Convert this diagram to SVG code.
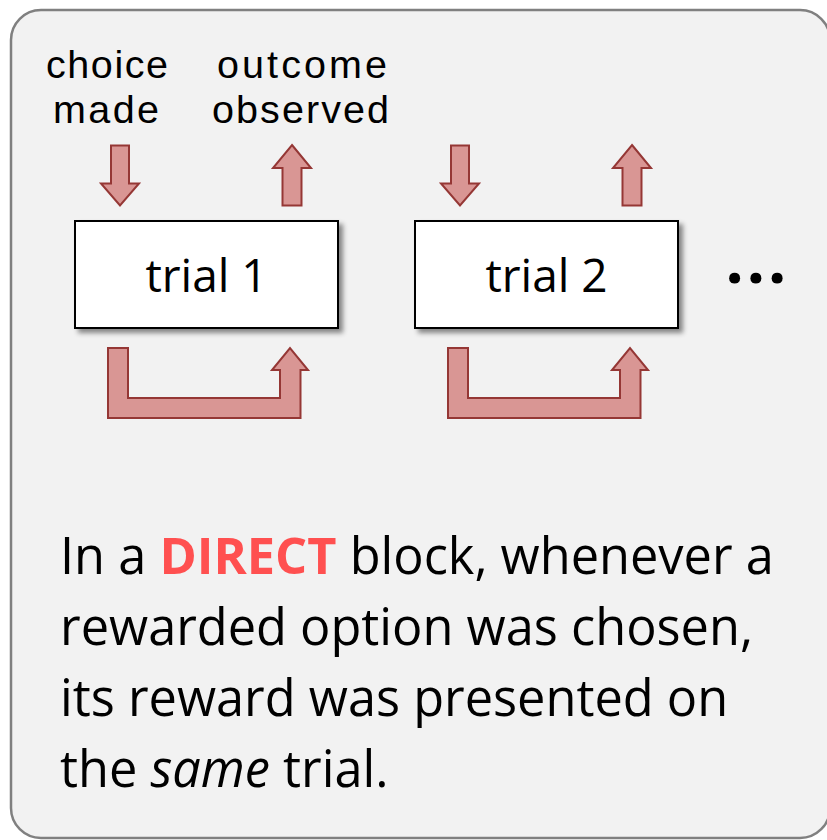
<svg xmlns="http://www.w3.org/2000/svg" width="827" height="840" viewBox="0 0 827 840">
  <defs>
    <filter id="boxShadow" x="-10%" y="-10%" width="130%" height="140%">
      <feDropShadow dx="4" dy="4" stdDeviation="2.5" flood-color="#000" flood-opacity="0.45"/>
    </filter>
  </defs>
  <style>
    .panel { fill: #f2f2f2; stroke: #808080; stroke-width: 2.5; }
    .trial { fill: #ffffff; stroke: #000000; stroke-width: 2; filter: url(#boxShadow); }
    .arrow { fill: #d99694; stroke: #953735; stroke-width: 2; stroke-linejoin: miter; }
    .label { font-family: "Liberation Sans", Arial, sans-serif; font-size: 39.5px; fill: #000; text-anchor: middle; }
    .trial-text { font-family: "Open Sans", "Liberation Sans", sans-serif; font-size: 46px; fill: #000; text-anchor: middle; }
    .body { font-family: "Open Sans", "Liberation Sans", sans-serif; font-size: 50.5px; fill: #000; }
    .accent { font-weight: bold; fill: #ff5050; }
    .dots { font-family: "Open Sans", "Liberation Sans", sans-serif; font-size: 64px; font-weight: bold; fill: #000; letter-spacing: 3px; }
  </style>

  <!-- background panel -->
  <rect class="panel" x="11" y="10" width="819" height="828" rx="30" ry="30"/>

  <!-- column labels -->
  <g id="label-choice">
    <text class="label" x="107" y="78" textLength="122" lengthAdjust="spacing">choice</text>
    <text class="label" x="106" y="123" textLength="106" lengthAdjust="spacing">made</text>
  </g>
  <g id="label-outcome">
    <text class="label" x="302" y="78" textLength="170" lengthAdjust="spacing">outcome</text>
    <text class="label" x="300.5" y="123" textLength="177" lengthAdjust="spacing">observed</text>
  </g>

  <!-- trial boxes -->
  <g id="trial1">
    <rect class="trial" x="75" y="221" width="263" height="107"/>
    <text class="trial-text" x="206.5" y="292">trial 1</text>
  </g>
  <g id="trial2">
    <rect class="trial" x="415" y="221" width="263" height="107"/>
    <text class="trial-text" x="546.5" y="292">trial 2</text>
  </g>
  <g id="more">
    <text class="dots" x="725.5" y="283">...</text>
  </g>

  <!-- block arrows -->
  <g id="connectors">
    <!-- trial 1: choice in, outcome out -->
    <polygon class="arrow" points="111,145.5 129,145.5 129,183.5 139,183.5 120,205.5 101,183.5 111,183.5"/>
    <polygon class="arrow" points="292,145 311,168 301.5,168 301.5,205.5 282.5,205.5 282.5,168 273,168"/>
    <!-- trial 1: reward delivered on the same trial -->
    <polygon class="arrow" points="108,348 128,348 128,398 280,398 280,370 272,370 290,348 308,370 300.5,370 300.5,418 108,418"/>

    <!-- trial 2: choice in, outcome out -->
    <polygon class="arrow" points="451,145.5 469,145.5 469,183.5 479,183.5 460,205.5 441,183.5 451,183.5"/>
    <polygon class="arrow" points="632,145 651,168 641.5,168 641.5,205.5 622.5,205.5 622.5,168 613,168"/>
    <!-- trial 2: reward delivered on the same trial -->
    <polygon class="arrow" points="448,348 468,348 468,398 620,398 620,370 612,370 630,348 648,370 640.5,370 640.5,418 448,418"/>
  </g>

  <!-- description -->
  <g id="description">
    <text class="body" x="60" y="574">In a <tspan class="accent">DIRECT</tspan> block, whenever a</text>
    <text class="body" x="60" y="645">rewarded option was chosen,</text>
    <text class="body" x="60" y="716">its reward was presented on</text>
    <text class="body" x="60" y="787">the <tspan font-style="italic">same</tspan> trial.</text>
  </g>
</svg>
